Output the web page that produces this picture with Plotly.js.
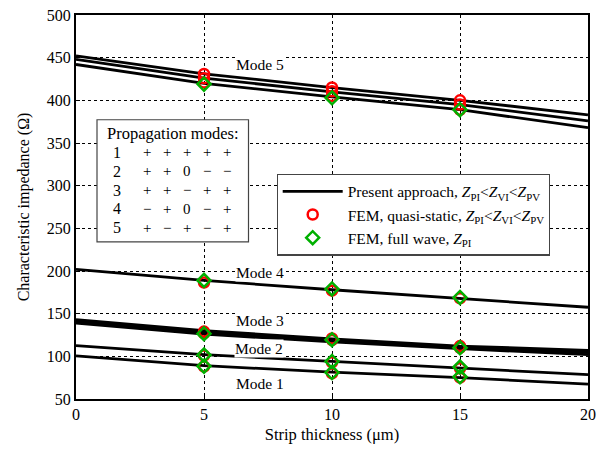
<!DOCTYPE html>
<html>
<head>
<meta charset="utf-8">
<script src="https://cdn.plot.ly/plotly-3.0.1.min.js"></script>
<style>html,body{margin:0;padding:0;background:#fff;}#chart{width:605px;height:452px;}</style>
</head>
<body>
<div id="chart"></div>
<script>
// ---- data ----
const thickness = [0, 5, 10, 15, 20];
const mode5PI = [452, 431, 415, 400, 383];
const mode5VI = [448, 426, 410, 395, 376];
const mode5PV = [442, 420, 404, 389, 368];
const mode4 = [202, 189, 178, 168, 157.5];
const mode3a = [143, 130, 120.5, 112, 107];
const mode3b = [141, 128, 118.5, 110.5, 104.5];
const mode3c = [139, 126, 117, 109, 102];
const mode2 = [112.5, 102, 94, 86, 78.5];
const mode1 = [100.5, 89, 81.5, 75, 67.5];

const femX = [5, 10, 15];
const femQS = [
  [431, 415, 400], [426, 410.5, 395], [421, 405, 389],
  [186.5, 177, 168],
  [129, 121, 112], [127, 119, 110],
  [101, 93, 86],
  [88, 80, 75]
];
const femFW = [
  [419, 403, 389],
  [189, 179, 169],
  [126.5, 119.5, 110],
  [101.5, 94, 87.5],
  [88.5, 81, 76]
];

const modeLabels = ["Mode 5", "Mode 4", "Mode 3", "Mode 2", "Mode 1"];
const tableTitle = "Propagation modes:";
const tableNums = ["1", "2", "3", "4", "5"];
const tableSigns = [
  ["+", "+", "+", "+", "+"],
  ["+", "+", "0", "\u2212", "\u2212"],
  ["+", "+", "\u2212", "+", "+"],
  ["\u2212", "+", "0", "\u2212", "+"],
  ["+", "\u2212", "+", "\u2212", "+"]
];
const legendNames = [
  "Present approach, <i>Z</i><sub>PI</sub><<i>Z</i><sub>VI</sub><<i>Z</i><sub>PV</sub>",
  "FEM, quasi-static, <i>Z</i><sub>PI</sub><<i>Z</i><sub>VI</sub><<i>Z</i><sub>PV</sub>",
  "FEM, full wave, <i>Z</i><sub>PI</sub>"
];

// ---- traces ----
const FONT = "Liberation Serif, Times New Roman, serif";
const traces = [];
[mode5PI, mode5VI, mode5PV, mode4, mode3a, mode3b, mode3c, mode2, mode1].forEach((ys, i) => {
  traces.push({
    x: thickness, y: ys, mode: "lines", type: "scatter",
    line: {color: "black", width: 2.8},
    name: legendNames[0], legendgroup: "pa", showlegend: i === 0, hoverinfo: "skip"
  });
});
femQS.forEach((ys, i) => {
  traces.push({
    x: femX, y: ys, mode: "markers", type: "scatter",
    marker: {symbol: "circle-open", size: 10, color: "#ff0000", line: {width: 2.5, color: "#ff0000"}},
    name: legendNames[1], legendgroup: "qs", showlegend: i === 0
  });
});
femFW.forEach((ys, i) => {
  traces.push({
    x: femX, y: ys, mode: "markers", type: "scatter",
    marker: {symbol: "diamond-open", size: 10, color: "#00b000", line: {width: 2.5, color: "#00b000"}},
    name: legendNames[2], legendgroup: "fw", showlegend: i === 0
  });
});

// ---- layout helpers (pixel -> paper) ----
const L = 76, R = 588, T = 14.5, B = 399.5;
const px = v => (v - L) / (R - L);
const py = v => 1 - (v - T) / (B - T);

const annotations = [];
const labelPos = [[260, 64.5], [260, 272.5], [260, 321], [259, 348.5], [260, 383.5]];
modeLabels.forEach((t, i) => {
  annotations.push({
    xref: "paper", yref: "paper", x: px(labelPos[i][0]), y: py(labelPos[i][1]),
    text: t, showarrow: false, bgcolor: "white", borderpad: 0,
    font: {family: FONT, size: 15.5, color: "black"}, xanchor: "center", yanchor: "middle"
  });
});
// propagation table
annotations.push({
  xref: "paper", yref: "paper", x: px(172.5), y: py(133), text: tableTitle, showarrow: false,
  font: {family: FONT, size: 16.5, color: "black"}, xanchor: "center", yanchor: "middle"
});
const rowY = [152, 171, 190, 209, 228];
const colX = [147, 167, 187, 207, 226.5];
tableNums.forEach((n, r) => {
  annotations.push({
    xref: "paper", yref: "paper", x: px(117), y: py(rowY[r]), text: n, showarrow: false,
    font: {family: FONT, size: 16, color: "black"}, xanchor: "center", yanchor: "middle"
  });
  tableSigns[r].forEach((s, c) => {
    annotations.push({
      xref: "paper", yref: "paper", x: px(colX[c]), y: py(rowY[r]), text: s, showarrow: false,
      font: {family: FONT, size: 15, color: "black"}, xanchor: "center", yanchor: "middle"
    });
  });
});

const shapes = [{
  type: "rect", xref: "paper", yref: "paper",
  x0: px(97), x1: px(248.5), y0: py(242), y1: py(119.5),
  line: {color: "#444", width: 1.2}, fillcolor: "white", layer: "above"
}];

const layout = {
  width: 605, height: 452,
  margin: {l: L, r: 605 - R, t: T, b: 452 - B, pad: 0},
  paper_bgcolor: "white", plot_bgcolor: "white",
  font: {family: FONT, size: 15.5, color: "black"},
  showlegend: true,
  legend: {
    x: px(276.5), y: py(173.5), xanchor: "left", yanchor: "top",
    bordercolor: "#444", borderwidth: 1.2, bgcolor: "white",
    font: {family: FONT, size: 15.5, color: "black"},
    tracegroupgap: 0, itemwidth: 60, traceorder: "normal"
  },
  xaxis: {
    range: [0, 20], tickvals: [0, 5, 10, 15, 20], ticktext: ["0", "5", "10", "15", "20"],
    showline: true, linecolor: "black", linewidth: 2, mirror: true,
    ticks: "inside", ticklen: 4, tickcolor: "black",
    showgrid: true, gridcolor: "black", griddash: "dot", gridwidth: 1,
    zeroline: false, tickfont: {family: FONT, size: 16},
    title: {text: "Strip thickness (\u03bcm)", font: {family: FONT, size: 16.5}, standoff: 6}
  },
  yaxis: {
    range: [50, 500], tickvals: [50, 100, 150, 200, 250, 300, 350, 400, 450, 500],
    showline: true, linecolor: "black", linewidth: 2, mirror: true,
    ticks: "inside", ticklen: 4, tickcolor: "black",
    showgrid: true, gridcolor: "black", griddash: "dot", gridwidth: 1,
    zeroline: false, tickfont: {family: FONT, size: 16},
    title: {text: "Characteristic impedance (\u03a9)", font: {family: FONT, size: 16}, standoff: 13}
  },
  annotations: annotations,
  shapes: shapes
};

Plotly.newPlot("chart", traces, layout, {displayModeBar: false, staticPlot: true});
</script>
</body>
</html>
